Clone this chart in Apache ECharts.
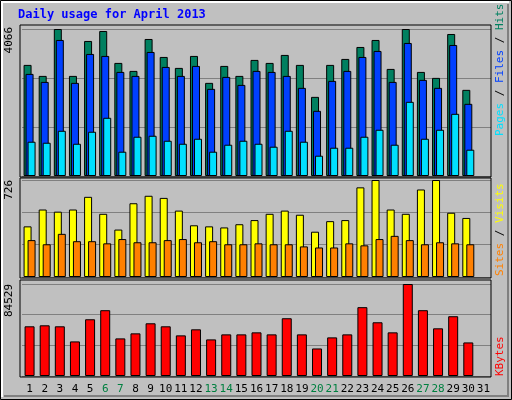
<!DOCTYPE html>
<html>
<head>
<meta charset="utf-8">
<script src="https://cdn.jsdelivr.net/npm/echarts@6/dist/echarts.min.js"></script>
<style>
html,body{margin:0;padding:0;background:#c0c0c0;}
#chart{width:512px;height:400px;}
</style>
</head>
<body>
<div id="chart"></div>
<script>
// daily figures, April 2013 (day 31 empty)
var days = ['1','2','3','4','5','6','7','8','9','10','11','12','13','14','15','16','17','18','19','20','21','22','23','24','25','26','27','28','29','30','31'];
var weekend = ['6','7','13','14','20','21','27','28'];
var hits = [3073,2769,4066,2769,3735,4011,3128,2907,3790,3293,2990,3321,2576,3045,2769,3211,3128,3349,3073,2189,3073,3238,3569,3763,2962,4066,2879,2714,3928,2383];
var files = [2824,2603,3763,2576,3376,3321,2879,2769,3431,3017,2769,3045,2410,2741,2520,2907,2879,2769,2438,1803,2631,2907,3293,3459,2603,3680,2659,2438,3624,1996];
var pages = [948,920,1251,892,1224,1610,672,1086,1113,975,892,1030,672,865,975,892,810,1251,948,561,782,782,1086,1279,865,2052,1030,1279,1720,727];
var visits = [379,505,489,505,600,473,355,552,608,592,497,387,379,371,395,426,473,497,466,339,418,426,671,726,505,473,655,726,481,442];
var sites = [276,245,323,268,268,252,284,260,260,276,284,260,268,245,245,252,245,245,229,221,221,252,237,284,308,276,245,260,252,245];
var kbytes = [45658,46584,45658,31776,52137,60466,34552,39180,48435,45658,37329,42882,33627,38254,38254,40105,38254,53062,38254,25297,35478,38254,63243,49360,40105,84529,60466,43807,54913,30850];

var maxTop = 4066, maxMid = 726, maxBot = 84529;
var mono = 'DejaVu Sans Mono';

var chart = echarts.init(document.getElementById('chart'));

function vAxis(idx, max) {
    return {
        gridIndex: idx, type: 'value', min: 0, max: max, interval: max / 3,
        axisLabel: {show: false}, axisTick: {show: false}, axisLine: {show: false},
        splitLine: {lineStyle: {color: '#808080', width: 1}}
    };
}
function cAxis(idx, showLabels) {
    return {
        gridIndex: idx, type: 'category', data: days,
        axisTick: {show: false}, axisLine: {show: false},
        axisLabel: {
            show: showLabels, interval: 0, margin: 8, fontFamily: mono, fontSize: 11,
            color: function (v) { return weekend.indexOf(v) >= 0 ? '#008040' : '#000'; }
        }
    };
}
function bar(name, data, x, color, width, gap) {
    return {
        name: name, type: 'bar', xAxisIndex: x, yAxisIndex: x, data: data,
        barWidth: width, barGap: gap, animation: false,
        itemStyle: {color: color, borderColor: '#000', borderWidth: 1}
    };
}
function panel(y, h) {
    return {type: 'rect', shape: {x: 20, y: y, width: 471, height: h}, silent: true,
        style: {fill: null, stroke: '#000', lineWidth: 1}, z: 100};
}
function sideText(txt, y) {
    return {type: 'text', x: 15, y: y, rotation: Math.PI / 2,
        style: {text: txt, font: '11px ' + mono, fill: '#000', align: 'right', verticalAlign: 'bottom'}};
}
// reads bottom-to-top, starting at y
function rightText(rich, str, y) {
    return {type: 'text', x: 500, y: y, rotation: Math.PI / 2,
        style: {text: str, rich: rich, font: '11px ' + mono, align: 'left', verticalAlign: 'middle'}};
}

chart.setOption({
    backgroundColor: '#c0c0c0',
    grid: [
        {left: 22, right: 21, top: 29, height: 147},
        {left: 22, right: 21, top: 180, height: 97},
        {left: 22, right: 21, top: 284, height: 92}
    ],
    xAxis: [cAxis(0, false), cAxis(1, false), cAxis(2, true)],
    yAxis: [vAxis(0, maxTop), vAxis(1, maxMid), vAxis(2, maxBot)],
    series: [
        bar('Hits', hits, 0, '#008060', 8, '-75%'),
        bar('Files', files, 0, '#0040ff', 8, '-75%'),
        bar('Pages', pages, 0, '#00e0ff', 8, '-75%'),
        bar('Visits', visits, 1, '#ffff00', 8, '-50%'),
        bar('Sites', sites, 1, '#ff8000', 8, '-50%'),
        bar('KBytes', kbytes, 2, '#ff0000', 10, '0%')
    ],
    graphic: [
        {type: 'rect', shape: {x: 0.5, y: 0.5, width: 511, height: 399}, silent: true,
            style: {fill: null, stroke: '#000', lineWidth: 1}},
        {type: 'polyline', shape: {points: [[2, 397], [2, 2], [509, 2]]}, silent: true,
            style: {stroke: '#fff', lineWidth: 2, fill: null}},
        {type: 'polyline', shape: {points: [[4, 396], [508, 396], [508, 4]]}, silent: true,
            style: {stroke: '#808080', lineWidth: 2, fill: null}},
        {type: 'text', x: 18, y: 9,
            style: {text: 'Daily usage for April 2013', font: 'bold 12px ' + mono, fill: '#0000ff'}},
        panel(25, 152), panel(178, 100), panel(280, 97),
        sideText(String(maxTop), 27),
        sideText(String(maxMid), 180),
        sideText(String(maxBot), 284),
        rightText({p: {fill: '#00e0ff'}, s: {fill: '#000'}, f: {fill: '#0040ff'}, h: {fill: '#008060'}},
            '{p|Pages}{s| / }{f|Files}{s| / }{h|Hits}', 136),
        rightText({v: {fill: '#ffff00'}, s: {fill: '#000'}, t: {fill: '#ff8000'}},
            '{t|Sites}{s| / }{v|Visits}', 276),
        rightText({k: {fill: '#ff0000'}}, '{k|KBytes}', 376)
    ]
});
</script>
</body>
</html>
